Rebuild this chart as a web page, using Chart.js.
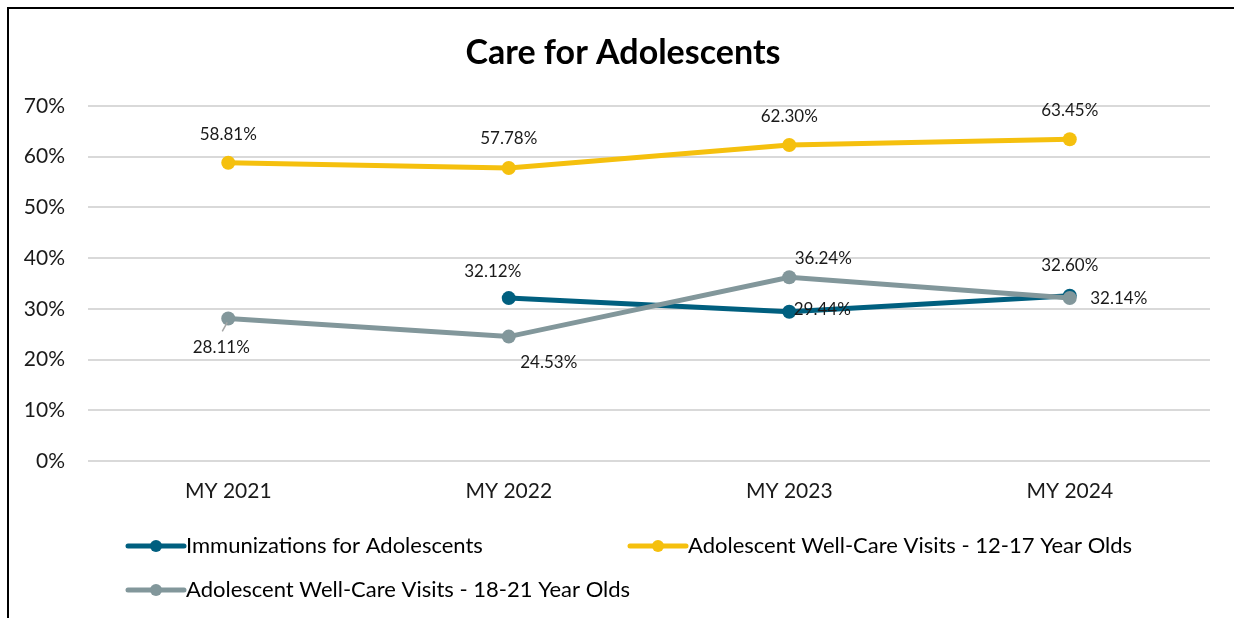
<!DOCTYPE html>
<html>
<head>
<meta charset="utf-8">
<script src="https://cdn.jsdelivr.net/npm/chart.js@4.4.1/dist/chart.umd.min.js"></script>
<style>
  html, body { margin: 0; padding: 0; background: #fff; overflow: hidden; }
  #chart { display: block; }
</style>
</head>
<body>
<canvas id="chart" width="1234" height="618"></canvas>
<script>
// data
const years = ['MY 2021', 'MY 2022', 'MY 2023', 'MY 2024'];
const immunizations = [null, 32.12, 29.44, 32.60];
const wellCare1217 = [58.81, 57.78, 62.30, 63.45];
const wellCare1821 = [28.11, 24.53, 36.24, 32.14];
const yMax = 70;
const yStep = 10;

const TEAL = '#005F7F';
const GOLD = '#F5C00E';
const GREY = '#82979B';
const FONT = 'Lato, "Liberation Sans", sans-serif';

// where each value label sits relative to its point (px)
const tealLabelPos = [[0, 0], [-16, -27], [33, -2], [0, -30]];
const goldLabelPos = [[0, -28], [0, -29], [0, -29], [0, -29]];
const greyLabelPos = [[-7, 29], [40, 26], [34, -19], [49, 1]];

// page frame (left + top rules) and the chart title
const framePlugin = {
    id: 'frame',
    beforeDraw(chart) {
        const ctx = chart.ctx;
        ctx.save();
        ctx.fillStyle = '#fff';
        ctx.fillRect(0, 0, chart.width, chart.height);
        ctx.strokeStyle = '#000';
        ctx.lineWidth = 2;
        ctx.beginPath();
        ctx.moveTo(8, chart.height);
        ctx.lineTo(8, 8);
        ctx.lineTo(chart.width, 8);
        ctx.stroke();
        ctx.restore();
    },
    afterDraw(chart) {
        const ctx = chart.ctx;
        ctx.save();
        ctx.font = 'bold 34px ' + FONT;
        ctx.fillStyle = '#000';
        ctx.textAlign = 'center';
        ctx.textBaseline = 'middle';
        ctx.fillText('Care for Adolescents', 623, 53);
        ctx.restore();
    }
};

const pointLabels = {
    id: 'pointLabels',
    afterDatasetsDraw(chart) {
        const ctx = chart.ctx;
        ctx.save();
        chart.data.datasets.forEach((ds, i) => {
            const meta = chart.getDatasetMeta(i);
            meta.data.forEach((pt, j) => {
                const v = ds.data[j];
                if (v == null) return;
                const [dx, dy] = ds.labelPos[j];
                if (ds.leader && ds.leader[j]) {
                    ctx.strokeStyle = '#A6A6A6';
                    ctx.lineWidth = 1.5;
                    ctx.beginPath();
                    ctx.moveTo(pt.x - 1, pt.y + 4);
                    ctx.lineTo(pt.x - 6, pt.y + 13);
                    ctx.stroke();
                }
                ctx.font = '17px ' + FONT;
                ctx.fillStyle = '#1a1a1a';
                ctx.textAlign = 'center';
                ctx.textBaseline = 'middle';
                ctx.fillText(v.toFixed(2) + '%', pt.x + dx, pt.y + dy);
            });
        });
        ctx.restore();
    }
};

const legendPlugin = {
    id: 'lineLegend',
    afterDraw(chart) {
        const ctx = chart.ctx;
        const items = [
            { ds: 0, x: 128, y: 546 },
            { ds: 1, x: 630, y: 546 },
            { ds: 2, x: 128, y: 590 }
        ];
        ctx.save();
        items.forEach(it => {
            const ds = chart.data.datasets[it.ds];
            ctx.strokeStyle = ds.borderColor;
            ctx.lineWidth = 5;
            ctx.lineCap = 'round';
            ctx.beginPath();
            ctx.moveTo(it.x, it.y);
            ctx.lineTo(it.x + 56, it.y);
            ctx.stroke();
            ctx.fillStyle = ds.borderColor;
            ctx.beginPath();
            ctx.arc(it.x + 28, it.y, 6, 0, Math.PI * 2);
            ctx.fill();
            ctx.font = '22px ' + FONT;
            ctx.fillStyle = '#000';
            ctx.textAlign = 'left';
            ctx.textBaseline = 'middle';
            ctx.fillText(ds.label, it.x + 58, it.y);
        });
        ctx.restore();
    }
};

const ctx = document.getElementById('chart').getContext('2d');
const careChart = new Chart(ctx, {
    type: 'line',
    data: {
        labels: years,
        datasets: [
            {
                label: 'Immunizations for Adolescents',
                data: immunizations,
                borderColor: TEAL,
                backgroundColor: TEAL,
                labelPos: tealLabelPos,
                order: 1
            },
            {
                label: 'Adolescent Well-Care Visits - 12-17 Year Olds',
                data: wellCare1217,
                borderColor: GOLD,
                backgroundColor: GOLD,
                labelPos: goldLabelPos,
                order: 2
            },
            {
                label: 'Adolescent Well-Care Visits - 18-21 Year Olds',
                data: wellCare1821,
                borderColor: GREY,
                backgroundColor: GREY,
                labelPos: greyLabelPos,
                leader: [true, false, false, false],
                order: 0
            }
        ]
    },
    options: {
        responsive: false,
        animation: false,
        spanGaps: false,
        elements: {
            line: { borderWidth: 5, tension: 0 },
            point: { radius: 7, hoverRadius: 7, borderWidth: 0 }
        },
        layout: { padding: { top: 106, right: 24, bottom: 117, left: 0 } },
        plugins: {
            legend: { display: false },
            title: { display: false },
            tooltip: { enabled: false }
        },
        scales: {
            x: {
                offset: true,
                grid: { display: false, drawTicks: false },
                border: { display: false },
                ticks: { padding: 18, color: '#1a1a1a', font: { family: FONT, size: 21 } },
                afterFit(scale) { scale.height = 40; }
            },
            y: {
                min: 0,
                max: yMax,
                grid: { color: '#D9D9D9', lineWidth: 2, drawTicks: false },
                border: { display: false },
                ticks: {
                    stepSize: yStep,
                    padding: 23,
                    color: '#1a1a1a',
                    font: { family: FONT, size: 21 },
                    callback: v => v + '%'
                },
                afterFit(scale) { scale.width = 88; }
            }
        }
    },
    plugins: [framePlugin, pointLabels, legendPlugin]
});
</script>
</body>
</html>
